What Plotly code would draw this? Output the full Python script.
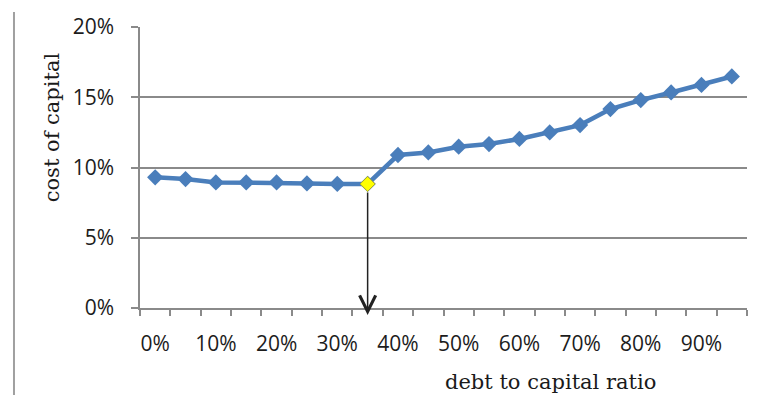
import numpy as np
import plotly.graph_objects as go

# debt-to-capital ratio (%) and resulting cost of capital (%)
debt_ratio = [0, 5, 10, 15, 20, 25, 30, 35, 40, 45, 50, 55, 60, 65, 70, 75, 80, 85, 90, 95]
cost_of_capital = [9.30, 9.18, 8.94, 8.94, 8.94, 8.87, 8.83, 8.83, 10.89, 11.07,
                   11.48, 11.67, 12.03, 12.50, 13.02, 14.16, 14.80, 15.34, 15.88, 16.48]

x_tick_vals = [0, 10, 20, 30, 40, 50, 60, 70, 80, 90]
x_tick_text = ["0%", "10%", "20%", "30%", "40%", "50%", "60%", "70%", "80%", "90%"]
y_tick_vals = [0, 5, 10, 15, 20]
y_tick_text = ["0%", "5%", "10%", "15%", "20%"]

optimum_ratio = 35  # lowest cost of capital

BLUE = "#4a7ebb"
GRID = "#8a8a8a"
TICK_FONT = dict(family="Open Sans", size=21, color="#1c1c1c")
TITLE_FONT = dict(family="DejaVu Serif", size=21, color="#1a1a1a")

opt_idx = debt_ratio.index(optimum_ratio)
opt_cost = cost_of_capital[opt_idx]

fig = go.Figure()

fig.add_trace(go.Scatter(
    x=debt_ratio, y=cost_of_capital, mode="lines+markers",
    line=dict(color=BLUE, width=4.5),
    marker=dict(symbol="diamond", size=12.5, color=BLUE),
    cliponaxis=False, showlegend=False, hoverinfo="skip",
))

# highlight the minimum point
fig.add_trace(go.Scatter(
    x=[optimum_ratio], y=[opt_cost], mode="markers",
    marker=dict(symbol="diamond", size=11.5, color="#ffff00",
                line=dict(color="#a8a830", width=1)),
    cliponaxis=False, showlegend=False, hoverinfo="skip",
))

# arrow from the optimum down to the x axis
fig.add_annotation(
    x=optimum_ratio, y=-0.5, xref="x", yref="y",
    ax=optimum_ratio, ay=opt_cost, axref="x", ayref="y",
    showarrow=True, arrowhead=5, arrowsize=2.1, arrowwidth=1.5,
    arrowcolor="#222222", startstandoff=7, text="",
)

fig.add_annotation(
    text="debt to capital ratio", xref="paper", yref="paper",
    x=0.6755, y=-0.265, showarrow=False, font=TITLE_FONT,
    xanchor="center", yanchor="middle",
)
fig.add_annotation(
    text="cost of capital", xref="paper", yref="paper",
    x=-0.145, y=0.643, showarrow=False, font=TITLE_FONT, textangle=-90,
    xanchor="center", yanchor="middle",
)

# thin divider line on the far left
fig.add_shape(
    type="line", xref="paper", yref="paper",
    x0=-0.2076, x1=-0.2076, y0=-0.31, y1=1.053,
    line=dict(color="#a0a0a0", width=2),
)

fig.update_xaxes(
    range=[-2.5, 97.5], showgrid=False, zeroline=False,
    showline=True, linecolor=GRID, linewidth=1.5,
    tickmode="array", tickvals=x_tick_vals, ticktext=x_tick_text,
    ticks="", tickfont=TICK_FONT, ticklabelstandoff=16,
    minor=dict(tickmode="array", tickvals=list(np.arange(-2.5, 100, 5)),
               ticks="outside", ticklen=6, tickcolor=GRID, tickwidth=1.5,
               showgrid=False),
)
fig.update_yaxes(
    range=[0, 20], showgrid=True, gridcolor=GRID, gridwidth=1.5,
    zeroline=False, showline=True, linecolor=GRID, linewidth=1.5,
    tickmode="array", tickvals=y_tick_vals, ticktext=y_tick_text,
    ticks="outside", ticklen=7, tickcolor=GRID, tickwidth=1.5,
    tickfont=TICK_FONT, ticklabelstandoff=13,
)

fig.update_layout(
    width=768, height=395,
    margin=dict(l=140, r=21, t=25, b=87),
    paper_bgcolor="white", plot_bgcolor="white",
)

fig.write_html("out.html")
